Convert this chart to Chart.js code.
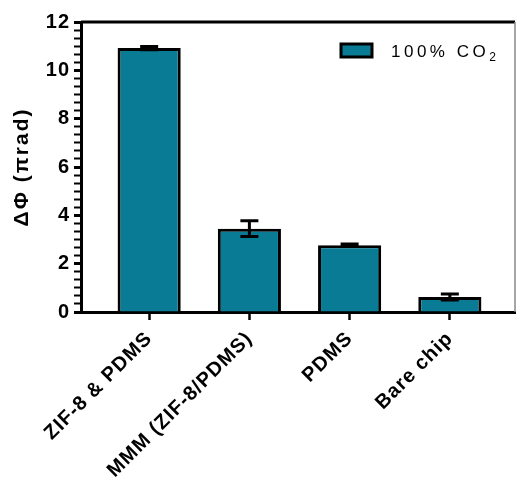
<!DOCTYPE html>
<html>
<head>
<meta charset="utf-8">
<script src="https://cdn.jsdelivr.net/npm/chart.js@4.4.1/dist/chart.umd.min.js"></script>
<style>
  html, body { margin: 0; padding: 0; background: #fff; }
  #wrap { width: 516px; height: 477px; }
</style>
</head>
<body>
<div id="wrap"><canvas id="chart"></canvas></div>
<script>
// values
const categories = ["ZIF-8 & PDMS", "MMM (ZIF-8/PDMS)", "PDMS", "Bare chip"];
const phaseShift = [10.92, 3.45, 2.76, 0.62];
const phaseError = [0.07, 0.33, 0.05, 0.12];
const yTicks = [0, 2, 4, 6, 8, 10, 12];
const legendText = "100% CO";
const legendSub = "2";
const yTitle = "ΔΦ (πrad)";

const teal = "#0a7b94";
const font = "'Liberation Sans', Arial, sans-serif";

// GraphPad style text is a bit spread out
const spacing = {
  id: "spacing",
  beforeLayout(chart) { chart.ctx.letterSpacing = "1px"; },
  beforeDraw(chart) { chart.ctx.letterSpacing = "1px"; }
};

const extras = {
  id: "extras",
  afterDatasetsDraw(chart) {
    const ctx = chart.ctx;
    const y = chart.scales.y;
    const meta = chart.getDatasetMeta(0);
    ctx.save();
    ctx.strokeStyle = "#000";
    ctx.lineWidth = 3;
    meta.data.forEach((bar, i) => {
      const top = y.getPixelForValue(phaseShift[i] + phaseError[i]);
      const bot = y.getPixelForValue(phaseShift[i] - phaseError[i]);
      ctx.beginPath();
      ctx.moveTo(bar.x, bot); ctx.lineTo(bar.x, top);
      ctx.moveTo(bar.x - 9, top); ctx.lineTo(bar.x + 9, top);
      ctx.moveTo(bar.x - 9, bot); ctx.lineTo(bar.x + 9, bot);
      ctx.stroke();
    });
    ctx.restore();
  },
  afterDraw(chart) {
    const ctx = chart.ctx;
    const a = chart.chartArea;
    ctx.save();
    // frame: thick top, thin grey right
    ctx.strokeStyle = "#000";
    ctx.lineWidth = 3;
    ctx.beginPath();
    ctx.moveTo(a.left, a.top); ctx.lineTo(a.right, a.top);
    ctx.stroke();
    ctx.strokeStyle = "#888";
    ctx.lineWidth = 1.5;
    ctx.beginPath();
    ctx.moveTo(a.right, a.top); ctx.lineTo(a.right, a.bottom);
    ctx.stroke();

    // legend
    ctx.fillStyle = teal;
    ctx.fillRect(341, 44, 31, 13);
    ctx.strokeStyle = "#000";
    ctx.lineWidth = 3;
    ctx.strokeRect(341, 44, 31, 13);
    ctx.fillStyle = "#000";
    ctx.letterSpacing = "3.5px";
    ctx.font = "17px " + font;
    ctx.textBaseline = "alphabetic";
    ctx.textAlign = "left";
    ctx.fillText(legendText, 391, 57);
    const w = ctx.measureText(legendText).width;
    ctx.font = "12px " + font;
    ctx.fillText(legendSub, 391 + w, 61);

    // y title
    ctx.letterSpacing = "2px";
    ctx.font = "bold 21px " + font;
    ctx.translate(22, (a.top + a.bottom) / 2);
    ctx.rotate(-Math.PI / 2);
    ctx.textAlign = "center";
    ctx.textBaseline = "middle";
    ctx.fillText(yTitle, 0, 0);
    ctx.restore();
  }
};

new Chart(document.getElementById("chart"), {
  type: "bar",
  data: {
    datasets: [{
      label: legendText + legendSub,
      data: phaseShift.map((v, i) => ({ x: i, y: v })),
      backgroundColor: teal,
      borderColor: "#000",
      borderWidth: 3,
      categoryPercentage: 1,
      barPercentage: 0.63
    }]
  },
  options: {
    responsive: true,
    maintainAspectRatio: false,
    animation: false,
    layout: { padding: { top: 22, right: 1, left: 0, bottom: 0 } },
    plugins: { legend: { display: false }, tooltip: { enabled: false } },
    scales: {
      x: {
        type: "linear",
        offset: false,
        min: -0.68,
        max: 3.65,
        afterFit(scale) { scale.height = 165; },
        border: { display: true, color: "#000", width: 3 },
        grid: { display: true, offset: false, drawOnChartArea: false, drawTicks: true, tickLength: 8, tickWidth: 2.5, tickColor: "#000" },
        ticks: {
          stepSize: 1,
          includeBounds: false,
          autoSkip: false,
          minRotation: 45,
          maxRotation: 45,
          padding: 7,
          color: "#000",
          font: { family: font, size: 20, weight: "bold" },
          callback: v => categories[v] ?? ""
        }
      },
      y: {
        min: 0,
        max: 12,
        afterFit(scale) { scale.width = 81; },
        border: { display: true, color: "#000", width: 3 },
        grid: {
          display: true, drawOnChartArea: false, drawTicks: true, tickLength: 7, tickColor: "#000",
          tickWidth: c => yTicks.includes(+c.tick.value.toFixed(6)) ? 3 : 2
        },
        ticks: {
          stepSize: 1 / 3,
          autoSkip: false,
          padding: 4,
          color: "#000",
          font: { family: font, size: 20, weight: "bold" },
          callback: v => yTicks.includes(+v.toFixed(6)) ? +v.toFixed(6) : ""
        }
      }
    }
  },
  plugins: [spacing, extras]
});
</script>
</body>
</html>
